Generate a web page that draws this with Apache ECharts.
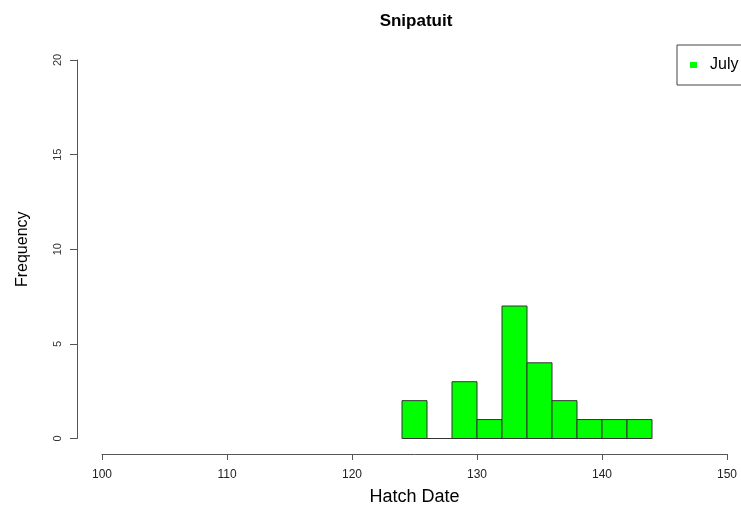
<!DOCTYPE html>
<html>
<head>
<meta charset="utf-8">
<script src="https://cdn.jsdelivr.net/npm/echarts@6/dist/echarts.min.js"></script>
<style>html,body{margin:0;padding:0;background:#fff}#c{width:741px;height:513px}</style>
</head>
<body>
<div id="c"></div>
<script>
const binStarts = [124, 126, 128, 130, 132, 134, 136, 138, 140, 142];
const binEnds   = [126, 128, 130, 132, 134, 136, 138, 140, 142, 144];
const counts    = [2, 0, 3, 1, 7, 4, 2, 1, 1, 1];
const xTicks = [100, 110, 120, 130, 140, 150];
const yTicks = [0, 5, 10, 15, 20];
const seriesName = 'July';

const data = binStarts.map((s, i) => [s, binEnds[i], counts[i]]);
const chart = echarts.init(document.getElementById('c'), null, {renderer: 'canvas'});
const axisColor = '#555';
chart.setOption({
  animation: false,
  backgroundColor: '#fff',
  title: {
    text: 'Snipatuit', left: 411, top: 8, textAlign: 'center',
    textStyle: {fontFamily: 'Liberation Sans, Arial', fontWeight: 'bold', fontSize: 17, color: '#000'}
  },
  legend: {
    data: [{name: seriesName, icon: 'rect'}],
    left: 677, top: 45,
    orient: 'vertical',
    padding: [11, 60, 11, 13],
    borderColor: '#444', borderWidth: 1,
    itemWidth: 7, itemHeight: 6,
    textStyle: {fontFamily: 'Liberation Sans, Arial', fontSize: 16, color: '#000', lineHeight: 18, padding: [0, 0, 0, 8]}
  },
  grid: {left: 102, right: 14, top: 60, bottom: 74.5, containLabel: false, outerBoundsMode: 'none'},
  xAxis: {
    type: 'value', min: xTicks[0], max: xTicks[xTicks.length - 1], interval: 10,
    offset: 15.5, splitLine: {show: false},
    axisLine: {show: true, onZero: false, lineStyle: {color: axisColor, width: 1}},
    axisTick: {show: true, length: 6, lineStyle: {color: axisColor}},
    axisLabel: {margin: 15, fontFamily: 'Liberation Sans, Arial', fontSize: 12, color: '#222'},
    name: 'Hatch Date', nameLocation: 'middle', nameGap: 34,
    nameTextStyle: {fontFamily: 'Liberation Sans, Arial', fontSize: 18, color: '#000'}
  },
  yAxis: {
    type: 'value', min: yTicks[0], max: yTicks[yTicks.length - 1], interval: 5,
    offset: 25, splitLine: {show: false},
    axisLine: {show: true, onZero: false, lineStyle: {color: axisColor, width: 1}},
    axisTick: {show: true, length: 7, lineStyle: {color: axisColor}},
    axisLabel: {margin: 14, rotate: 90, fontFamily: 'Liberation Sans, Arial', fontSize: 11, color: '#333'},
    name: 'Frequency', nameLocation: 'middle', nameGap: 46, nameRotate: 90,
    nameTextStyle: {fontFamily: 'Liberation Sans, Arial', fontSize: 16, color: '#000'}
  },
  series: [{
    name: seriesName,
    type: 'custom',
    itemStyle: {color: '#00ff00'},
    encode: {x: [0, 1], y: 2},
    data: data,
    renderItem: function (params, api) {
      const p0 = api.coord([api.value(0), 0]);
      const p1 = api.coord([api.value(1), api.value(2)]);
      return {
        type: 'rect',
        shape: {x: p0[0], y: p1[1], width: p1[0] - p0[0], height: p0[1] - p1[1]},
        style: {fill: '#00ff00', stroke: '#333', lineWidth: 1}
      };
    }
  }]
});
</script>
</body>
</html>
